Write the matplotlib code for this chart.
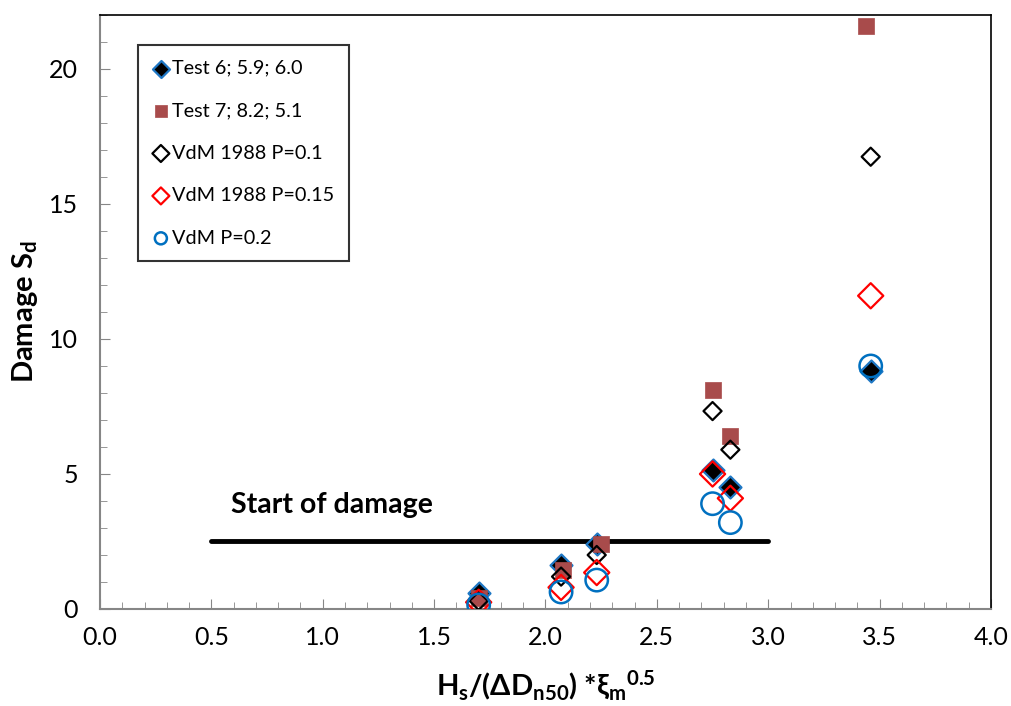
import matplotlib
matplotlib.use("Agg")
import matplotlib.pyplot as plt
from matplotlib.ticker import MultipleLocator, FormatStrFormatter

plt.rcParams['font.family'] = ['Lato', 'DejaVu Sans']
plt.rcParams['mathtext.fontset'] = 'custom'
plt.rcParams['mathtext.rm'] = 'Lato'
plt.rcParams['mathtext.bf'] = 'Lato:bold'
plt.rcParams['mathtext.it'] = 'Lato:italic'
plt.rcParams['mathtext.default'] = 'bf'

# Data
x_test6 = [1.70, 2.07, 2.23, 2.75, 2.83, 3.46]
y_test6 = [0.6, 1.63, 2.4, 5.15, 4.5, 8.8]

x_test7 = [1.70, 2.08, 2.25, 2.75, 2.83, 3.44]
y_test7 = [0.4, 1.45, 2.4, 8.1, 6.4, 21.6]

x_vdm = [1.70, 2.07, 2.23, 2.75, 2.83, 3.46]
y_vdm01 = [0.3, 1.2, 2.0, 7.33, 5.9, 16.75]
y_vdm015 = [0.25, 0.8, 1.35, 5.0, 4.1, 11.6]
y_vdm02 = [0.15, 0.63, 1.07, 3.9, 3.2, 9.0]

start_x = [0.5, 3.0]
start_y = [2.5, 2.5]

fig = plt.figure(figsize=(10.11, 7.06), dpi=100)
ax = fig.add_axes([0.0989, 0.1374, 0.8813, 0.8414])

ax.plot(start_x, start_y, color='black', lw=3.5, solid_capstyle='round', zorder=1)
ax.text(0.59, 3.85, 'Start of damage', fontsize=20.5, fontweight='bold', va='center', ha='left')

ax.scatter(x_test6, y_test6, marker='D', s=125, facecolor='black', edgecolor='#1F77C4', linewidth=1.6,
           label='Test 6; 5.9; 6.0', zorder=3)
ax.scatter(x_test7, y_test7, marker='s', s=135, facecolor='#A84B4B', edgecolor='#A84B4B', linewidth=0.5,
           label='Test 7; 8.2; 5.1', zorder=4)
ax.scatter(x_vdm, y_vdm01, marker='D', s=85, facecolor='none', edgecolor='black', linewidth=1.6,
           label='VdM 1988 P=0.1', zorder=5)
ax.scatter(x_vdm, y_vdm015, marker='D', s=165, facecolor='none', edgecolor='#FF0000', linewidth=1.6,
           label='VdM 1988 P=0.15', zorder=5)
ax.scatter(x_vdm, y_vdm02, marker='o', s=260, facecolor='none', edgecolor='#0070C0', linewidth=1.8,
           label='VdM P=0.2', zorder=6)

ax.set_xlim(0, 4)
ax.set_ylim(0, 22)
ax.xaxis.set_major_locator(MultipleLocator(0.5))
ax.xaxis.set_minor_locator(MultipleLocator(0.1))
ax.xaxis.set_major_formatter(FormatStrFormatter('%.1f'))
ax.yaxis.set_major_locator(MultipleLocator(5))
ax.yaxis.set_minor_locator(MultipleLocator(1))

ax.tick_params(axis='both', which='major', direction='in', length=7, color='#868686', labelsize=18, pad=12)
ax.tick_params(axis='both', which='minor', direction='in', length=5, color='#868686')
ax.tick_params(axis='y', which='major', pad=16)

for s in ['left', 'bottom']:
    ax.spines[s].set_color('#868686')
    ax.spines[s].set_linewidth(1.5)
for s in ['top', 'right']:
    ax.spines[s].set_color('black')
    ax.spines[s].set_linewidth(1.2)

ax.set_xlabel(r'H$_s$/($\Delta$D$_{n50}$) *$\xi_m$$^{0.5}$', fontsize=21, fontweight='bold', labelpad=14)
ax.set_ylabel(r'Damage S$_d$', fontsize=21, fontweight='bold', labelpad=6)

leg = ax.legend(loc='upper left', bbox_to_anchor=(0.0427, 0.9495), frameon=True, fancybox=False,
                edgecolor='black', fontsize=14.3, handletextpad=0.15, labelspacing=1.28,
                borderpad=0.75, handlelength=0.8, borderaxespad=0, scatterpoints=1)
leg.get_frame().set_linewidth(1.5)
for h in leg.legend_handles:
    h.set_sizes([75])

fig.savefig('out.png', dpi=100)
